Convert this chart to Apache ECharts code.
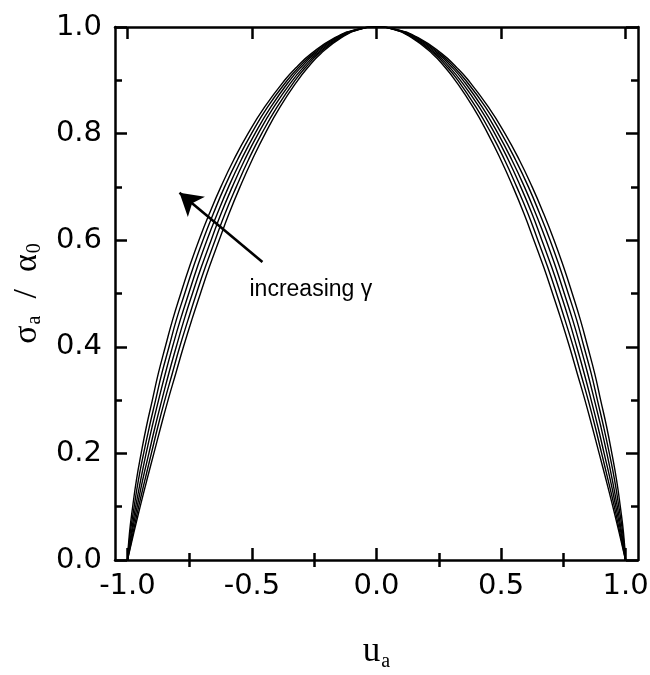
<!DOCTYPE html>
<html>
<head>
<meta charset="utf-8">
<script src="https://cdn.jsdelivr.net/npm/echarts@6/dist/echarts.min.js"></script>
<style>
  html, body { margin: 0; padding: 0; background: #fff; }
  #chart { width: 650px; height: 675px; }
</style>
</head>
<body>
<div id="chart"></div>
<script>
// sigma_a / alpha_0 levels at which the curves were read
const sigmaLevels = [0, 0.05, 0.1, 0.15, 0.2, 0.25, 0.3, 0.35, 0.4, 0.45, 0.5, 0.55, 0.6,
  0.65, 0.7, 0.75, 0.8, 0.85, 0.9, 0.925, 0.95, 0.98, 0.995, 1];

// |u_a| of each curve at those levels (the picture is symmetric about u_a = 0)
// curve 1 = widest (largest gamma), curve 6 = narrowest
const halfWidth1 = [1, 0.992, 0.979, 0.964, 0.945, 0.924, 0.900, 0.876, 0.848, 0.819, 0.786, 0.751, 0.713,
  0.671, 0.625, 0.574, 0.516, 0.449, 0.369, 0.320, 0.262, 0.167, 0.083, 0];
const halfWidth2 = [1, 0.989, 0.973, 0.956, 0.935, 0.912, 0.887, 0.862, 0.833, 0.804, 0.770, 0.735, 0.697,
  0.655, 0.610, 0.559, 0.502, 0.437, 0.358, 0.311, 0.254, 0.162, 0.081, 0];
const halfWidth3 = [1, 0.985, 0.967, 0.947, 0.925, 0.901, 0.875, 0.848, 0.819, 0.788, 0.754, 0.719, 0.681,
  0.639, 0.594, 0.544, 0.488, 0.424, 0.348, 0.302, 0.247, 0.157, 0.078, 0];
const halfWidth4 = [1, 0.982, 0.961, 0.939, 0.914, 0.889, 0.862, 0.834, 0.804, 0.773, 0.739, 0.703, 0.664,
  0.624, 0.579, 0.530, 0.475, 0.412, 0.337, 0.292, 0.239, 0.151, 0.076, 0];
const halfWidth5 = [1, 0.978, 0.955, 0.930, 0.904, 0.878, 0.850, 0.820, 0.790, 0.757, 0.723, 0.687, 0.648,
  0.608, 0.563, 0.515, 0.461, 0.399, 0.327, 0.283, 0.232, 0.146, 0.073, 0];
const halfWidth6 = [1, 0.975, 0.949, 0.922, 0.894, 0.866, 0.837, 0.806, 0.775, 0.742, 0.707, 0.671, 0.632,
  0.592, 0.548, 0.500, 0.447, 0.387, 0.316, 0.274, 0.224, 0.141, 0.071, 0];

const halfWidths = [halfWidth1, halfWidth2, halfWidth3, halfWidth4, halfWidth5, halfWidth6];

const xMajorTicks = [-1, -0.5, 0, 0.5, 1];
const xMinorTicks = [-0.75, -0.25, 0.25, 0.75];

// annotation arrow (tail -> head) and label anchor, in data units
const arrowTail = [-0.458, 0.559];
const arrowHead = [-0.791, 0.689];
const labelAnchor = [-0.51, 0.507];

const chart = echarts.init(document.getElementById('chart'));

const tickFont = { fontFamily: 'DejaVu Sans', fontSize: 29, color: '#000' };
const frameLine = { show: true, onZero: false, lineStyle: { color: '#000', width: 2.5 } };
const tickLine = { color: '#000', width: 2.5 };

const xBase = { type: 'value', min: -1.05, max: 1.05, splitLine: { show: false } };

// walk each curve from u = -1 over the peak to u = +1
function curvePoints(w) {
  const pts = [];
  for (let i = 0; i < sigmaLevels.length; i++) pts.push([-w[i], sigmaLevels[i]]);
  for (let i = sigmaLevels.length - 2; i >= 0; i--) pts.push([w[i], sigmaLevels[i]]);
  return pts;
}

const series = halfWidths.map((w, k) => ({
  type: 'line',
  name: 'curve' + (k + 1),
  xAxisIndex: 0,
  yAxisIndex: 0,
  data: curvePoints(w),
  smooth: true,
  showSymbol: false,
  symbol: 'none',
  lineStyle: { color: '#000', width: 1.4 },
  silent: true
}));

// arrow + text
series.push({
  type: 'line',
  xAxisIndex: 0,
  yAxisIndex: 0,
  data: [],
  markLine: {
    silent: true,
    symbol: ['none', 'arrow'],
    symbolSize: [20, 22],
    label: { show: false },
    lineStyle: { color: '#000', width: 2.6, type: 'solid' },
    data: [[{ coord: arrowTail }, { coord: arrowHead }]]
  },
  markPoint: {
    silent: true,
    symbolSize: 0,
    label: {
      show: true,
      position: 'right',
      distance: 0,
      formatter: 'increasing γ',
      fontFamily: 'Liberation Sans',
      fontSize: 23,
      color: '#000'
    },
    data: [{ coord: labelAnchor }]
  }
});

chart.setOption({
  backgroundColor: '#fff',
  animation: false,
  grid: { left: 115, right: 12, top: 27, bottom: 115, containLabel: false, outerBoundsMode: 'none' },
  xAxis: [
    Object.assign({}, xBase, {
      position: 'bottom',
      axisLine: frameLine,
      axisTick: { show: true, inside: true, length: 12, customValues: xMajorTicks, lineStyle: tickLine },
      axisLabel: Object.assign({ margin: 12, customValues: xMajorTicks, formatter: v => v.toFixed(1) }, tickFont),
      name: '{s|u}{sub|a}',
      nameLocation: 'middle',
      nameGap: 72,
      nameTextStyle: {
        rich: {
          s: { fontFamily: 'Liberation Serif', fontSize: 35, color: '#000' },
          sub: { fontFamily: 'Liberation Serif', fontSize: 20, color: '#000', padding: [20, 0, 0, 1] }
        }
      }
    }),
    Object.assign({}, xBase, {
      position: 'bottom',
      axisLine: { show: false },
      axisTick: { show: true, inside: true, length: 7, customValues: xMinorTicks, lineStyle: tickLine },
      axisLabel: { show: false }
    }),
    Object.assign({}, xBase, {
      position: 'top',
      axisLine: frameLine,
      axisTick: { show: true, inside: true, length: 12, customValues: xMajorTicks, lineStyle: tickLine },
      axisLabel: { show: false }
    }),
    Object.assign({}, xBase, {
      position: 'top',
      axisLine: { show: false },
      axisTick: { show: true, inside: true, length: 7, customValues: xMinorTicks, lineStyle: tickLine },
      axisLabel: { show: false }
    })
  ],
  yAxis: [
    {
      type: 'value',
      position: 'left',
      min: 0,
      max: 1,
      interval: 0.2,
      splitLine: { show: false },
      axisLine: frameLine,
      axisTick: { show: true, inside: true, length: 12, lineStyle: tickLine },
      minorTick: { show: true, splitNumber: 2, length: 7, lineStyle: tickLine },
      minorSplitLine: { show: false },
      axisLabel: Object.assign({ margin: 13, formatter: v => v.toFixed(1) }, tickFont),
      name: '{s|σ}{sub|a}{sl|  /  }{s|α}{sub|0}',
      nameLocation: 'middle',
      nameGap: 68,
      nameRotate: 90,
      nameTextStyle: {
        rich: {
          s: { fontFamily: 'Liberation Serif', fontSize: 34, color: '#000' },
          sl: { fontFamily: 'Liberation Serif', fontSize: 34, color: '#000' },
          sub: { fontFamily: 'Liberation Serif', fontSize: 20, color: '#000', padding: [16, 0, 0, 1] }
        }
      }
    },
    {
      type: 'value',
      position: 'right',
      min: 0,
      max: 1,
      interval: 0.2,
      splitLine: { show: false },
      axisLine: frameLine,
      axisTick: { show: true, inside: true, length: 12, lineStyle: tickLine },
      minorTick: { show: true, splitNumber: 2, length: 7, lineStyle: tickLine },
      minorSplitLine: { show: false },
      axisLabel: { show: false }
    }
  ],
  series: series
});
</script>
</body>
</html>
